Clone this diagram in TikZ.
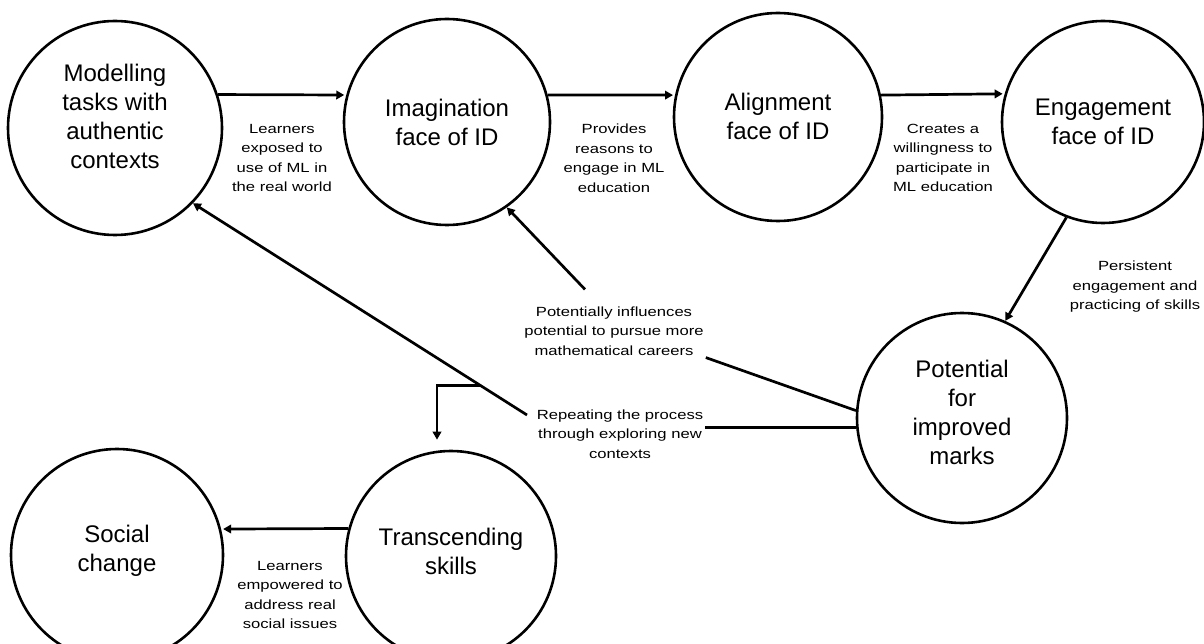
\documentclass[tikz,border=0pt]{standalone}
\usepackage{fontspec}
\setmainfont{Liberation Sans}
\newfontfamily\lblfont[FakeStretch=1.25]{Liberation Sans}
\usetikzlibrary{arrows.meta,calc}
\begin{document}
\begin{tikzpicture}[x=1pt,y=-1pt,
  bubble/.style={circle,draw,line width=2.6pt,inner sep=0pt},
  big/.style={align=center,font=\fontsize{24}{29}\selectfont},
  lbl/.style={align=center,font=\lblfont\fontsize{13.3}{19.5}\selectfont,inner sep=2pt},
  arr/.style={line width=2.7pt,-{Triangle[length=8pt,width=8.5pt]}},
  ln/.style={line width=2.7pt}]
\useasboundingbox[fill=white] (0,0) rectangle (1204,644);

% circles
\node[bubble,minimum size=214pt] (mod) at (115,128) {};
\node[bubble,minimum size=206pt] (img) at (447,122) {};
\node[bubble,minimum size=208pt] (ali) at (778,117) {};
\node[bubble,minimum size=202pt] (eng) at (1103,122) {};
\node[bubble,minimum size=210pt] (pot) at (962,418) {};
\node[bubble,minimum size=210pt] (tra) at (451,556) {};
\node[bubble,minimum size=212pt] (soc) at (117,555) {};

% circle texts
\node[big] (tmod) at (115,116) {Modelling\\tasks with\\authentic\\contexts};
\node[big] (timg) at (447,122) {Imagination\\face of ID};
\node[big] (tali) at (778,116) {Alignment\\face of ID};
\node[big] (teng) at (1103,122) {Engagement\\face of ID};
\node[big] (tpot) at (962,412) {Potential\\for\\improved\\marks};
\node[big] (ttra) at (451,551) {Transcending\\skills};
\node[big] (tsoc) at (117,551) {Social\\change};

% labels
\node[lbl] (l1) at (282,158) {Learners\\exposed to\\use of ML in\\the real world};
\node[lbl] (l2) at (614,158) {Provides\\reasons to\\engage in ML\\education};
\node[lbl] (l3) at (943,158) {Creates a\\willingness to\\participate in\\ML education};
\node[lbl] (l4) at (1135,287) {Persistent\\engagement and\\practicing of skills};
\node[lbl] (infl) at (614,331) {Potentially influences\\potential to pursue more\\mathematical careers};
\node[lbl] (rep) at (620,434) {Repeating the process\\through exploring new\\contexts};
\node[lbl] (l5) at (290,595) {Learners\\empowered to\\address real\\social issues};

% top chain
\draw[arr,shorten >=2pt] (mod.18) -- (img.165);
\draw[arr,shorten >=2pt] (img.15) -- (ali.168);
\draw[arr,shorten >=2pt] (ali.12) -- (eng.164);
\draw[arr] (eng.249) -- (pot.66);

% potentially influences
\draw[ln] (pot.176) -- (infl.south east);
\draw[arr] ([xshift=-29pt,yshift=15pt]infl.north) -- (img.-55);

% repeating the process
\draw[ln] (pot.185) -- (pot.185 -| rep.east);
\coordinate (rs) at (527,415);
\draw[arr] (rs) -- (mod.-44);
\coordinate (br) at ($(rs)!0.138!(mod.-44)$);
\coordinate (tt) at ($(tra.north)+(-14,-10)$);
\draw[arr] (br) -| (tt);

% transcending -> social
\draw[arr,shorten >=2pt] (tra.165) -- (soc.14);
\end{tikzpicture}
\end{document}
